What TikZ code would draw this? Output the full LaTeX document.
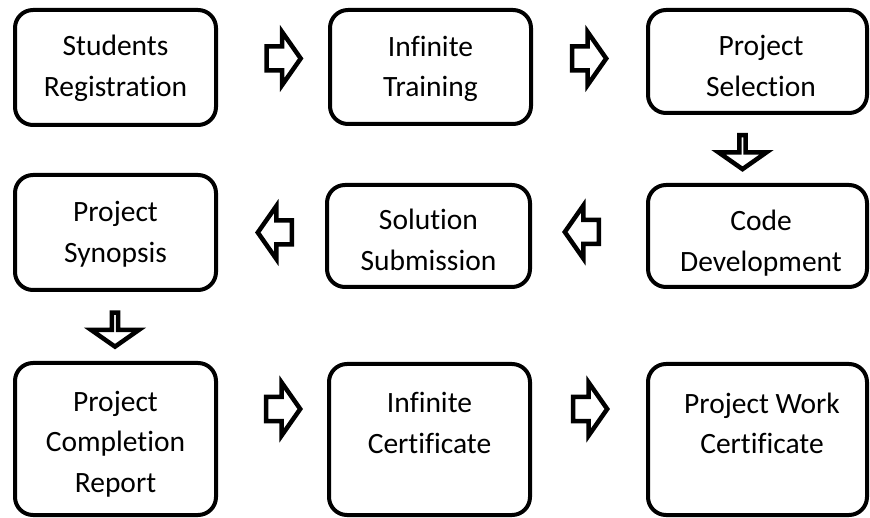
\documentclass[tikz,border=0pt]{standalone}
\usepackage{fontspec}
\setmainfont{Carlito}[Ligatures=NoCommon]
\usetikzlibrary{shapes.arrows}
\begin{document}
\begin{tikzpicture}[x=1pt,y=-1pt,
  box/.style={draw, line width=4pt, rounded corners=18pt, inner sep=0pt},
  txt/.style={align=center, font=\fontsize{29.5}{40.5}\selectfont, inner sep=0pt},
  blk/.style={draw, line width=4.5pt, single arrow, single arrow head extend=14.5pt,
    single arrow tip angle=110, minimum height=34pt, minimum width=48pt,
    inner sep=0pt, inner ysep=9.75pt, line join=miter, miter limit=10, fill=white},
]
\useasboundingbox (0,0) rectangle (870,518);
% boxes
\node[box, minimum width=201pt, minimum height=115pt] (b1) at (115.5,67.5) {};
\node[box, minimum width=201pt, minimum height=114pt] (b2) at (430.5,67) {};
\node[box, minimum width=219pt, minimum height=103pt] (b3) at (757.5,61.5) {};
\node[box, minimum width=201pt, minimum height=115pt] (b4) at (115.5,232.5) {};
\node[box, minimum width=203pt, minimum height=102pt] (b5) at (428.5,236) {};
\node[box, minimum width=219pt, minimum height=102pt] (b6) at (757.5,236) {};
\node[box, minimum width=201pt, minimum height=152pt] (b7) at (115.5,439) {};
\node[box, minimum width=201pt, minimum height=151pt] (b8) at (429.5,439.5) {};
\node[box, minimum width=219pt, minimum height=151pt] (b9) at (757.5,439.5) {};
% texts
\node[txt] (t1) at (115.5,68) {\strut Students\\\strut Registration};
\node[txt] (t2) at (430.5,68.5) {\strut Infinite\\\strut Training};
\node[txt] (t3) at (761,68) {\strut Project\\\strut Selection};
\node[txt] (t4) at (115.5,234) {\strut Project\\\strut Synopsis};
\node[txt] (t5) at (428.5,242) {\strut Solution\\\strut Submission};
\node[txt] (t6) at (761,243) {\strut Code\\\strut Development};
\node[txt] (t7) at (115.5,443.5) {\strut Project\\\strut Completion\\\strut Report};
\node[txt] (t8) at (429.5,425) {\strut Infinite\\\strut Certificate};
\node[txt] (t9) at (762,425.5) {\strut Project Work\\\strut Certificate};
% block arrows
\node[blk] (a1) at (279.5,58.5) {};
\node[blk] (a2) at (585,58.5) {};
\node[blk, shape border rotate=270] (a3) at (742.5,151) {};
\node[blk, shape border rotate=180] (a4) at (586,232) {};
\node[blk, shape border rotate=180] (a5) at (279,232.5) {};
\node[blk, shape border rotate=270] (a6) at (115,328.5) {};
\node[blk] (a7) at (279,409) {};
\node[blk] (a8) at (586,409) {};
\end{tikzpicture}
\end{document}
